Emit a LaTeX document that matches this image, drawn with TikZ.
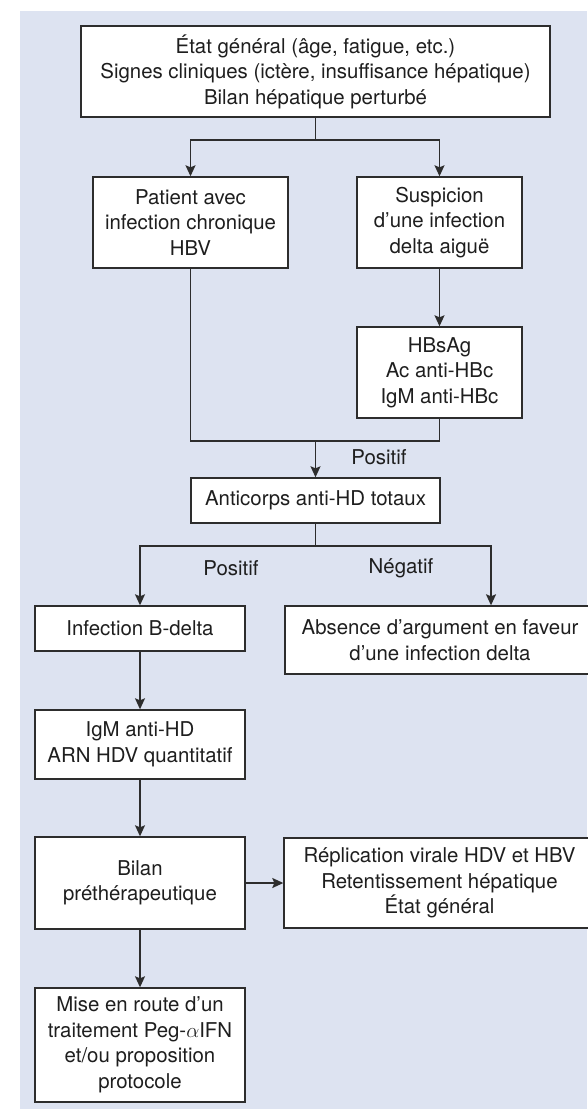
\documentclass[tikz,border=0pt]{standalone}
\usepackage{fontspec}
\setmainfont{TeX Gyre Heros}
\usetikzlibrary{arrows.meta}
\definecolor{bgblue}{RGB}{221,227,241}
\definecolor{boxline}{RGB}{45,45,45}
\definecolor{textcol}{RGB}{30,30,30}
\begin{document}
\begin{tikzpicture}[x=1pt,y=-1pt,
  box/.style={draw=boxline, line width=1.4pt, fill=white, align=center, inner sep=0pt,
    font=\fontsize{20.4}{25.5}\selectfont, text=textcol},
  conn/.style={draw=boxline, line width=1.4pt},
  arr/.style={conn, -{Stealth[length=11pt,width=10pt,inset=2pt]}},
  lbl/.style={font=\fontsize{20.4}{25.5}\selectfont, text=textcol, inner sep=0pt}]
\useasboundingbox (0,0) rectangle (587,1109);
\fill[bgblue] (20,11) rectangle (587,1109);

\node[box, minimum width=469pt, minimum height=91pt] (top) at (315.5,71.5)
  {État général (âge, fatigue, etc.)\\Signes cliniques (ictère, insuffisance hépatique)\\Bilan hépatique perturbé};
\node[box, minimum width=195pt, minimum height=91pt] (patient) at (190.5,222.5)
  {Patient avec\\infection chronique\\HBV};
\node[box, minimum width=165pt, minimum height=91pt] (susp) at (439.5,222.5)
  {Suspicion\\d’une infection\\delta aiguë};
\node[box, minimum width=165pt, minimum height=91pt] (hbs) at (439.5,372.5)
  {HBsAg\\Ac anti-HBc\\IgM anti-HBc};
\node[box, minimum width=249pt, minimum height=45pt] (anti) at (315.5,500.5)
  {Anticorps anti-HD totaux};
\node[box, minimum width=210pt, minimum height=45pt] (infb) at (140,628.5)
  {Infection B-delta};
\node[box, minimum width=310pt, minimum height=68pt] (abs) at (440,640)
  {Absence d’argument en faveur\\d’une infection delta};
\node[box, minimum width=210pt, minimum height=69pt] (igm) at (140,744.5)
  {IgM anti-HD\\ARN HDV quantitatif};
\node[box, minimum width=210pt, minimum height=92pt] (bilan) at (140,883)
  {Bilan\\préthérapeutique};
\node[box, minimum width=311pt, minimum height=90pt] (repl) at (439.5,883)
  {Réplication virale HDV et HBV\\Retentissement hépatique\\État général};
\node[box, minimum width=210pt, minimum height=114pt] (mise) at (140,1045)
  {Mise en route d’un\\traitement Peg-$\alpha$IFN\\et/ou proposition\\protocole};

\coordinate (s1) at (top.south |- 0,140);
\draw[conn] (top.south) -- (s1);
\draw[arr] (s1) -| (patient.north);
\draw[arr] (s1) -| (susp.north);
\draw[arr] (susp.south) -- (hbs.north);

\coordinate (m) at (anti.north |- 0,441);
\draw[conn] (patient.south) |- (m) -| (hbs.south);
\draw[arr] (m) -- (anti.north);
\node[lbl] (pos1) at (379,457) {Positif};

\coordinate (sp) at (anti.south |- 0,546);
\coordinate (absin) at (abs.north -| 491,0);
\draw[conn] (anti.south) -- (sp);
\draw[arr] (sp) -| (infb.north);
\draw[arr] (sp) -| (absin);
\node[lbl] (pos2) at (231,568) {Positif};
\node[lbl] (neg) at (401,568) {Négatif};

\draw[arr] (infb.south) -- (igm.north);
\draw[arr] (igm.south) -- (bilan.north);
\draw[arr] (bilan.east) -- (repl.west);
\draw[arr] (bilan.south) -- (mise.north);
\end{tikzpicture}
\end{document}
